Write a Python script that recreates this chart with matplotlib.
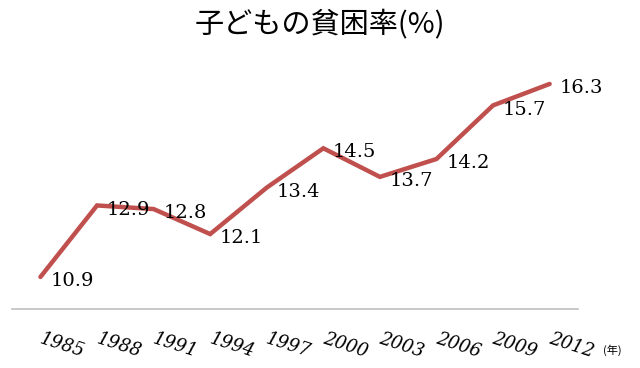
import matplotlib.pyplot as plt

years = ["1985", "1988", "1991", "1994", "1997", "2000", "2003", "2006", "2009", "2012"]
rates = [10.9, 12.9, 12.8, 12.1, 13.4, 14.5, 13.7, 14.2, 15.7, 16.3]
title = "子どもの貧困率(%)"
unit = "(年)"

LINE = "#C0504D"
AXIS = "#BFBFBF"
TEXT = "#000000"

plt.rcParams["font.family"] = ["DejaVu Serif", "Noto Sans CJK JP"]

fig = plt.figure(figsize=(6.4, 3.68), dpi=100)
ax = fig.add_axes([0.019, 0.160, 0.884, 0.777])

x = list(range(len(years)))
ax.plot(x, rates, color=LINE, lw=3.2, solid_capstyle="round", solid_joinstyle="miter")

for xi, v in zip(x, rates):
    ax.annotate(f"{v:.1f}", (xi, v), xytext=(7, -3), textcoords="offset points",
                ha="left", va="center", fontsize=14, color=TEXT)

ax.set_xlim(-0.5, len(years) - 0.5)
ax.set_ylim(10, 18)
ax.set_yticks([])
ax.set_xticks(x)
ax.set_xticklabels(years, fontsize=13, style="italic", rotation=-18,
                   rotation_mode="anchor", ha="left", va="center")
ax.tick_params(axis="x", length=0, pad=21)
for s in ("left", "right", "top"):
    ax.spines[s].set_visible(False)
ax.spines["bottom"].set_color(AXIS)
ax.spines["bottom"].set_linewidth(1.2)

fig.text(0.957, 0.048, unit, fontsize=8, family="Noto Sans CJK JP", ha="center", va="center")
fig.text(0.5, 0.935, title, fontsize=21, family="Noto Sans CJK JP", ha="center", va="center")

fig.savefig("out.png", dpi=100)
